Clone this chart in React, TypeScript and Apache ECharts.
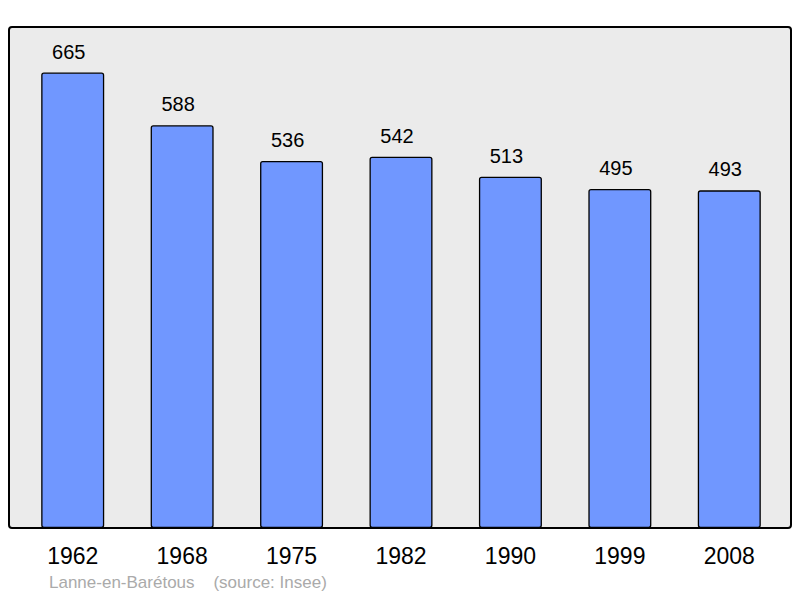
import React, { useEffect, useRef } from "react";
import * as echarts from "echarts";

const years = ["1962", "1968", "1975", "1982", "1990", "1999", "2008"];
const population = [665, 588, 536, 542, 513, 495, 493];
const commune = "Lanne-en-Barétous";
const source = "(source: Insee)";

export default function App() {
  const ref = useRef<HTMLDivElement>(null);
  useEffect(() => {
    const chart = echarts.init(ref.current!, null, { renderer: "svg" });
    const font = "'Liberation Sans', Arial, sans-serif";
    chart.setOption({
      animation: false,
      backgroundColor: "#ffffff",
      grid: { left: 18, right: 16, top: 27, bottom: 70 },
      graphic: [
        {
          type: "rect",
          z: -10,
          silent: true,
          shape: { x: 9, y: 27, width: 782, height: 501, r: 3 },
          style: { fill: "#ebebeb", stroke: "#000000", lineWidth: 2 },
        },
        {
          type: "text",
          left: 49,
          top: 574,
          style: {
            text: commune + "    " + source,
            fill: "#aaaaaa",
            fontSize: 17,
            fontFamily: font,
          },
        },
      ],
      xAxis: {
        type: "category",
        data: years,
        axisLine: { show: false },
        axisTick: { show: false },
        axisLabel: { color: "#000", fontSize: 23, margin: 16, fontFamily: font },
      },
      yAxis: {
        type: "value",
        min: 0,
        max: 731.5,
        show: false,
        splitLine: { show: false },
      },
      series: [
        {
          type: "bar",
          data: population,
          barWidth: 63,
          itemStyle: {
            color: "#7097ff",
            borderColor: "#000000",
            borderWidth: 1.3,
            borderRadius: 2,
          },
          label: {
            show: true,
            position: "top",
            distance: 11,
            offset: [-4, 0],
            color: "#000",
            fontSize: 20,
            fontFamily: font,
          },
        },
      ],
    });
    return () => chart.dispose();
  }, []);
  return (
    <div
      ref={ref}
      style={{ position: "absolute", left: 0, top: 0, width: 800, height: 598 }}
    />
  );
}
